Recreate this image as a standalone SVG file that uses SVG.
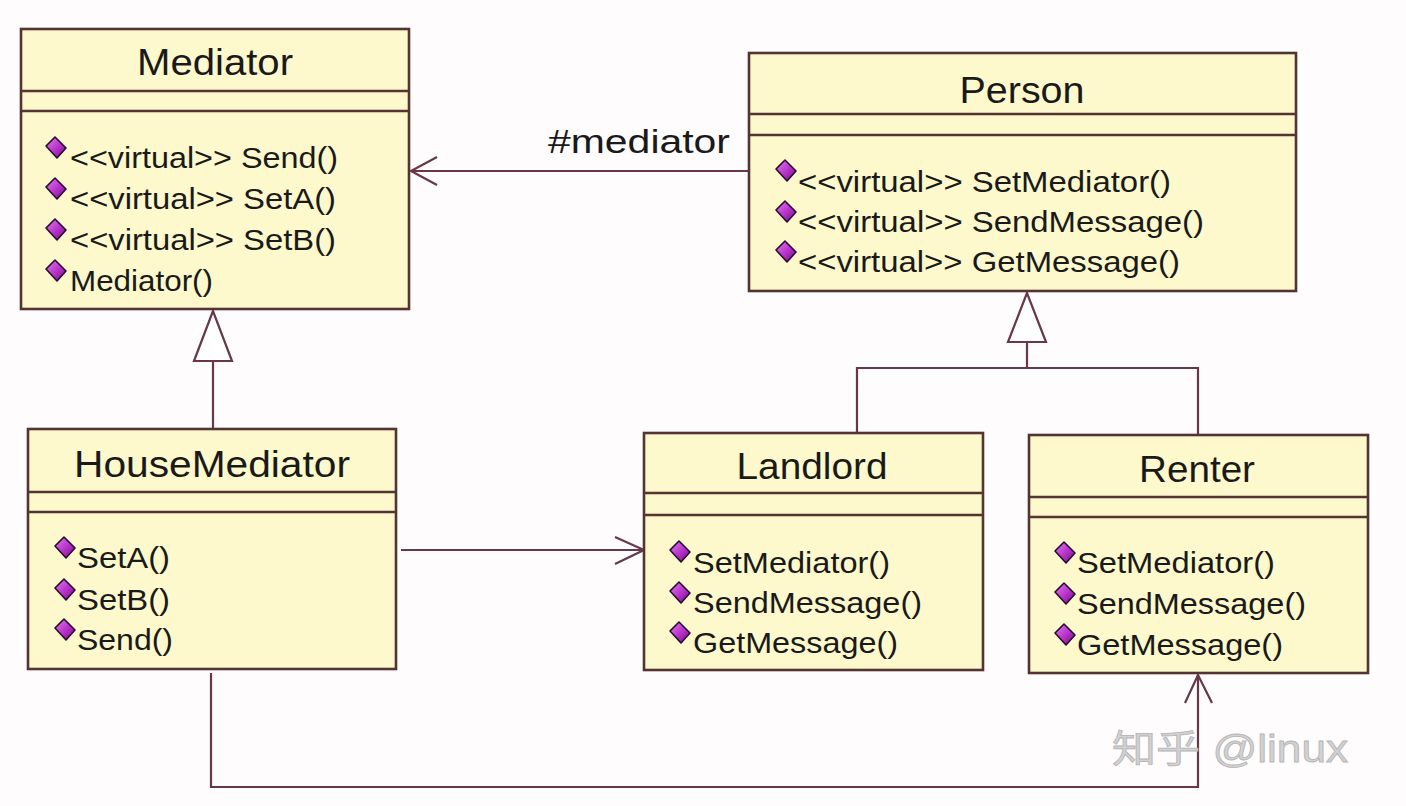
<svg xmlns="http://www.w3.org/2000/svg" xmlns:xlink="http://www.w3.org/1999/xlink" width="1406" height="806" viewBox="0 0 1406 806">
<style>
.box{fill:#fdf9cc;stroke:#553333;stroke-width:2.6}
.div{stroke:#553333;stroke-width:2.6}
.title{font-family:"Liberation Sans",Arial,sans-serif;font-size:36px;fill:#1a1a1a;text-anchor:middle}
.op{font-family:"Liberation Sans",Arial,sans-serif;font-size:30px;fill:#1a1a1a}
.conn{fill:none;stroke:#66384a;stroke-width:2.2}
.tri{fill:#ffffff;stroke:#66384a;stroke-width:2.2;stroke-linejoin:miter}
.lbl{font-family:"Liberation Sans",Arial,sans-serif;font-size:33px;fill:#1a1a1a}
.wm{font-family:"Liberation Sans","Noto Sans CJK SC",sans-serif;font-size:38px;fill:#d2d2d2;stroke:#b5b5b5;stroke-width:0.8}
</style>
<defs>
<linearGradient id="dg" x1="0" y1="0" x2="1" y2="1">
<stop offset="0" stop-color="#e37cf2"/>
<stop offset="0.55" stop-color="#b530c8"/>
<stop offset="1" stop-color="#6a1478"/>
</linearGradient>
<g id="dm"><polygon points="-10,-2 -1,-11 10,0 1,10" fill="url(#dg)" stroke="#2a0a30" stroke-width="1.6" stroke-linejoin="round"/></g>
</defs>
<rect width="1406" height="806" fill="#fefcfd"/>

<g id="connectors">
<line class="conn" x1="749" y1="171" x2="411" y2="171"/>
<polyline class="conn" points="437,157 411,171 437,185"/>
<line class="conn" x1="213" y1="429" x2="213" y2="361"/>
<polygon class="tri" points="213,311 194,361 232,361"/>
<path class="conn" d="M857,433 V368 H1198 V435 M1027,368 V342"/>
<polygon class="tri" points="1027,293 1008,342 1046,342"/>
<line class="conn" x1="401" y1="550" x2="644" y2="550"/>
<polyline class="conn" points="615,537 644,550 615,564"/>
<path class="conn" d="M211,673 V787 H1198 V675"/>
<polyline class="conn" points="1185,703 1198,675 1212,703"/>
<text class="lbl" x="548" y="153" textLength="182" lengthAdjust="spacingAndGlyphs">#mediator</text>
</g>

<g id="Mediator">
<rect class="box" x="21" y="29" width="388" height="280"/>
<line class="div" x1="21" y1="91" x2="409" y2="91"/>
<line class="div" x1="21" y1="111" x2="409" y2="111"/>
<text class="title" x="215" y="75" textLength="156" lengthAdjust="spacingAndGlyphs">Mediator</text>
<use href="#dm" x="56" y="148"/>
<text class="op" x="70" y="168" textLength="268" lengthAdjust="spacingAndGlyphs">&lt;&lt;virtual&gt;&gt; Send()</text>
<use href="#dm" x="56" y="189"/>
<text class="op" x="70" y="209" textLength="266" lengthAdjust="spacingAndGlyphs">&lt;&lt;virtual&gt;&gt; SetA()</text>
<use href="#dm" x="56" y="230"/>
<text class="op" x="70" y="250" textLength="266" lengthAdjust="spacingAndGlyphs">&lt;&lt;virtual&gt;&gt; SetB()</text>
<use href="#dm" x="56" y="271"/>
<text class="op" x="70" y="291" textLength="143" lengthAdjust="spacingAndGlyphs">Mediator()</text>
</g>

<g id="Person">
<rect class="box" x="749" y="53" width="547" height="238"/>
<line class="div" x1="749" y1="114" x2="1296" y2="114"/>
<line class="div" x1="749" y1="135" x2="1296" y2="135"/>
<text class="title" x="1022" y="103" textLength="125" lengthAdjust="spacingAndGlyphs">Person</text>
<use href="#dm" x="786" y="171"/>
<text class="op" x="798" y="192" textLength="373" lengthAdjust="spacingAndGlyphs">&lt;&lt;virtual&gt;&gt; SetMediator()</text>
<use href="#dm" x="786" y="212"/>
<text class="op" x="798" y="232" textLength="406" lengthAdjust="spacingAndGlyphs">&lt;&lt;virtual&gt;&gt; SendMessage()</text>
<use href="#dm" x="786" y="252"/>
<text class="op" x="798" y="272" textLength="382" lengthAdjust="spacingAndGlyphs">&lt;&lt;virtual&gt;&gt; GetMessage()</text>
</g>

<g id="HouseMediator">
<rect class="box" x="28" y="429" width="368" height="240"/>
<line class="div" x1="28" y1="492" x2="396" y2="492"/>
<line class="div" x1="28" y1="512" x2="396" y2="512"/>
<text class="title" x="212" y="477" textLength="276" lengthAdjust="spacingAndGlyphs">HouseMediator</text>
<use href="#dm" x="65" y="548"/>
<text class="op" x="77" y="568" textLength="93" lengthAdjust="spacingAndGlyphs">SetA()</text>
<use href="#dm" x="65" y="590"/>
<text class="op" x="77" y="610" textLength="93" lengthAdjust="spacingAndGlyphs">SetB()</text>
<use href="#dm" x="65" y="630"/>
<text class="op" x="77" y="650" textLength="96" lengthAdjust="spacingAndGlyphs">Send()</text>
</g>

<g id="Landlord">
<rect class="box" x="644" y="433" width="339" height="237"/>
<line class="div" x1="644" y1="493" x2="983" y2="493"/>
<line class="div" x1="644" y1="515" x2="983" y2="515"/>
<text class="title" x="812" y="479" textLength="151" lengthAdjust="spacingAndGlyphs">Landlord</text>
<use href="#dm" x="680" y="552"/>
<text class="op" x="693" y="573" textLength="197" lengthAdjust="spacingAndGlyphs">SetMediator()</text>
<use href="#dm" x="680" y="593"/>
<text class="op" x="693" y="613" textLength="229" lengthAdjust="spacingAndGlyphs">SendMessage()</text>
<use href="#dm" x="680" y="633"/>
<text class="op" x="693" y="653" textLength="205" lengthAdjust="spacingAndGlyphs">GetMessage()</text>
</g>

<g id="Renter">
<rect class="box" x="1029" y="435" width="339" height="238"/>
<line class="div" x1="1029" y1="497" x2="1368" y2="497"/>
<line class="div" x1="1029" y1="517" x2="1368" y2="517"/>
<text class="title" x="1197" y="482" textLength="116" lengthAdjust="spacingAndGlyphs">Renter</text>
<use href="#dm" x="1065" y="553"/>
<text class="op" x="1077" y="573" textLength="198" lengthAdjust="spacingAndGlyphs">SetMediator()</text>
<use href="#dm" x="1065" y="594"/>
<text class="op" x="1077" y="614" textLength="229" lengthAdjust="spacingAndGlyphs">SendMessage()</text>
<use href="#dm" x="1065" y="635"/>
<text class="op" x="1077" y="655" textLength="206" lengthAdjust="spacingAndGlyphs">GetMessage()</text>
</g>

<text class="wm" x="1112" y="762" textLength="236" lengthAdjust="spacingAndGlyphs">知乎 @linux</text>
</svg>
